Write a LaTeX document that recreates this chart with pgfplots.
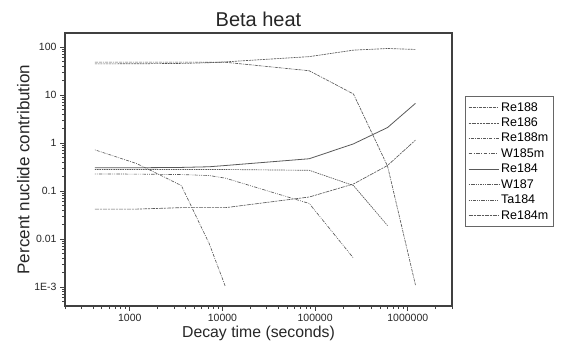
\documentclass[border=0pt]{standalone}
\usepackage{fontspec}
\setmainfont{Liberation Sans}
\usepackage{pgfplots}
\pgfplotsset{compat=1.18}
\definecolor{ln}{gray}{0.35}
\definecolor{ax}{gray}{0.25}
\begin{document}
\begin{tikzpicture}
\begin{axis}[
  at={(0,0)}, anchor=south west,
  scale only axis, width=387pt, height=273pt,
  xmode=log, ymode=log,
  xmin=200, xmax=3e6, ymin=4.02e-4, ymax=195.7,
  axis line style={line width=1.3pt, color=ax},
  tick pos=left, tick align=outside,
  major tick length=5pt, minor tick length=3pt,
  every tick/.style={ax, line width=0.8pt},
  xtick={1000,10000,100000,1000000},
  ytick={0.001,0.01,0.1,1,10,100},
  minor xtick={200,300,400,500,600,700,800,900,2000,3000,4000,5000,6000,7000,8000,9000,20000,30000,40000,50000,60000,70000,80000,90000,200000,300000,400000,500000,600000,700000,800000,900000,2000000,3000000},
  minor ytick={0.0005,0.0006,0.0007,0.0008,0.0009,0.002,0.003,0.004,0.005,0.006,0.007,0.008,0.009,0.02,0.03,0.04,0.05,0.06,0.07,0.08,0.09,0.2,0.3,0.4,0.5,0.6,0.7,0.8,0.9,2,3,4,5,6,7,8,9,20,30,40,50,60,70,80,90},
  xticklabels={1000,10000,100000,1000000},
  yticklabels={1E-3,0.01,0.1,1,10,100},
  /pgf/number format/assume math mode=true,
  tick label style={font=\fontsize{10.5}{12}\selectfont, color=black!85},
  title={Beta heat},
  title style={font=\fontsize{20}{24}\selectfont, color=black!85, yshift=-3pt},
  xlabel={Decay time (seconds)},
  ylabel={Percent nuclide contribution},
  xlabel style={font=\fontsize{15.8}{18}\selectfont, color=black!85, yshift=3pt},
  ylabel style={font=\fontsize{17}{20}\selectfont, color=black!85, yshift=-2pt},
  legend style={at={(1.0336,0.769)}, anchor=north west, draw=black!60, line width=0.6pt,
    font=\fontsize{12.5}{14}\selectfont, row sep=1.2pt, inner xsep=3pt, inner ysep=4pt},
  legend cell align=left,
  legend image code/.code={\draw[#1] (0pt,0pt) -- (30pt,0pt);},
  every axis plot/.append style={ln, line width=0.65pt},
]
% Re188
\addplot[dash pattern=on 3pt off 1pt on 3pt off 1pt on 1pt off 1pt] coordinates {(420,48.5)(1200,48.5)(3600,48.5)(7200,48.2)(10800,48)(86400,32)(259200,10.5)(604800,0.33)(1209600,0.0011)};
% Re186
\addplot[dash pattern=on 2pt off 0.8pt] coordinates {(420,44.5)(1200,44.7)(3600,45.5)(7200,47)(10800,49)(86400,63)(259200,86)(604800,93)(1209600,89)};
% Re188m
\addplot[dash pattern=on 0.8pt off 1.2pt on 3pt off 1.2pt] coordinates {(420,0.72)(1200,0.37)(3600,0.13)(7200,0.008)(10800,0.001)};
% W185m (legend only)
\addlegendimage{ln, line width=0.65pt, dash pattern=on 3.5pt off 1.5pt on 1pt off 1.5pt}
% Re184
\addplot[solid, line width=0.8pt] coordinates {(420,0.305)(1200,0.305)(3600,0.31)(7200,0.32)(10800,0.34)(86400,0.47)(259200,0.96)(604800,2.1)(1209600,6.7)};
% W187
\addplot[dash pattern=on 1.5pt off 0.8pt] coordinates {(420,0.28)(1200,0.28)(3600,0.28)(7200,0.28)(10800,0.28)(86400,0.27)(259200,0.13)(604800,0.019)};
% Ta184
\addplot[dash pattern=on 0.8pt off 1.2pt on 0.8pt off 1.2pt on 3.5pt off 1.2pt] coordinates {(420,0.226)(1200,0.225)(3600,0.22)(7200,0.21)(10800,0.185)(86400,0.055)(259200,0.004)};
% Re184m
\addplot[dash pattern=on 4pt off 1pt on 2pt off 1pt] coordinates {(420,0.042)(1200,0.042)(3600,0.045)(7200,0.045)(10800,0.045)(86400,0.075)(259200,0.14)(604800,0.34)(1209600,1.15)};
\legend{Re188,Re186,Re188m,W185m,Re184,W187,Ta184,Re184m}
\end{axis}
\pgfresetboundingbox
\path[use as bounding box] (-65pt,-40pt) rectangle (499pt,306pt);
\end{tikzpicture}
\end{document}
